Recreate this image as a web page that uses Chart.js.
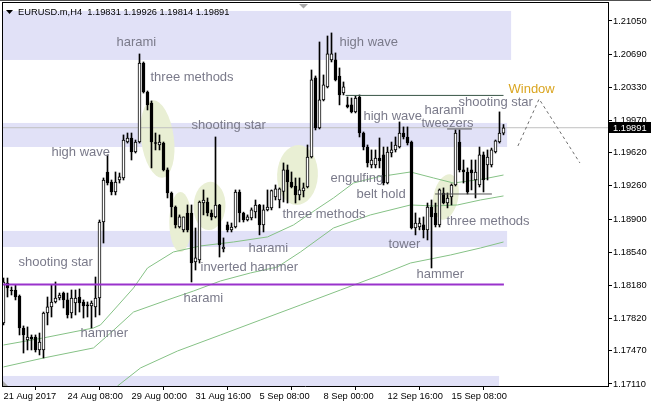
<!DOCTYPE html>
<html><head><meta charset="utf-8">
<script src="https://cdn.jsdelivr.net/npm/chart.js@4"></script>
<style>html,body{margin:0;padding:0;background:#fff;overflow:hidden}#wrap{width:651px;height:408px}</style>
</head><body><div id="wrap"><canvas id="c" width="651" height="408"></canvas></div>
<script>
const symbolTitle = 'EURUSD.m,H4';
const lastOHLC = ['1.19831','1.19926','1.19814','1.19891'];
const xTickIdx = [0,16,32,48,64,80,96,112];
const xTickLabels = ['21 Aug 2017','24 Aug 08:00','29 Aug 00:00','31 Aug 16:00','5 Sep 08:00','8 Sep 00:00','12 Sep 16:00','15 Sep 08:00'];
const yTicks = [1.21050,1.20690,1.20330,1.19970,1.19620,1.19260,1.18900,1.18540,1.18180,1.17820,1.17470,1.17110];

const candleOpen = [1.17772,1.18206,1.18130,1.18130,1.18065,1.17718,1.17588,1.17620,1.17620,1.17479,
 1.17479,1.17880,1.17946,1.18000,1.18043,1.18097,1.18022,1.17880,1.17989,1.18054,
 1.18000,1.17967,1.17957,1.17946,1.18043,1.18868,1.19411,1.19302,1.19194,1.19324,
 1.19346,1.19736,1.19780,1.19628,1.19736,1.20594,1.20279,1.20160,1.19725,1.19704,
 1.19725,1.19433,1.19183,1.19031,1.18814,1.18782,1.18966,1.18966,1.18434,1.18456,
 1.19074,1.19085,1.18966,1.18923,1.19053,1.18575,1.18836,1.18782,1.18814,1.19194,
 1.18966,1.18890,1.18912,1.18977,1.19053,1.18836,1.18999,1.19021,1.19140,1.19107,
 1.19200,1.19433,1.19302,1.19259,1.19162,1.19205,1.19248,1.19574,1.20432,1.19889,
 1.20193,1.20334,1.20627,1.20627,1.20453,1.20268,1.20139,1.20139,1.20063,1.20225,
 1.19834,1.19682,1.19487,1.19487,1.19563,1.19596,1.19291,1.19617,1.19650,1.19682,
 1.19834,1.19791,1.19736,1.18803,1.18814,1.18836,1.18782,1.19031,1.18966,1.18836,
 1.19183,1.19074,1.19140,1.19270,1.19736,1.19433,1.19411,1.19433,1.19324,1.19270,
 1.19596,1.19487,1.19487,1.19628,1.19736,1.19831];
const candleHigh = [1.18260,1.18260,1.18163,1.18185,1.18076,1.17740,1.17729,1.17642,1.17642,1.17663,
 1.17891,1.18054,1.18185,1.18217,1.18097,1.18108,1.18097,1.18130,1.18130,1.18141,
 1.18022,1.18000,1.18011,1.18271,1.18890,1.19346,1.19596,1.19324,1.19411,1.19400,
 1.19813,1.19834,1.19834,1.19758,1.20692,1.20605,1.20290,1.20182,1.19834,1.19813,
 1.19736,1.19455,1.19194,1.19042,1.18945,1.18923,1.19053,1.19053,1.18803,1.19096,
 1.19216,1.19129,1.18999,1.19791,1.19060,1.18695,1.18868,1.18857,1.19216,1.19216,
 1.18975,1.18945,1.19021,1.19107,1.19060,1.19053,1.19216,1.19216,1.19270,1.19238,
 1.19509,1.19487,1.19411,1.19346,1.19346,1.19291,1.19704,1.20518,1.20453,1.20822,
 1.20464,1.20887,1.20920,1.20703,1.20540,1.20388,1.20225,1.20214,1.20236,1.20247,
 1.19845,1.19704,1.19650,1.19650,1.19780,1.19682,1.19682,1.19736,1.19791,1.19954,
 1.19900,1.19900,1.19747,1.18966,1.18912,1.18923,1.19074,1.19107,1.19074,1.19227,
 1.19238,1.19183,1.19281,1.19867,1.19867,1.19541,1.19455,1.19541,1.19541,1.19682,
 1.19628,1.19650,1.19671,1.19758,1.20063,1.19926];
const candleLow = [1.17751,1.18054,1.18076,1.18022,1.17642,1.17446,1.17479,1.17479,1.17457,1.17425,
 1.17392,1.17751,1.17837,1.17989,1.18022,1.17935,1.17826,1.17826,1.17859,1.17891,
 1.17826,1.17837,1.17718,1.17837,1.17859,1.18640,1.19270,1.19162,1.19162,1.19291,
 1.19324,1.19725,1.19541,1.19617,1.19725,1.20268,1.20084,1.19455,1.19650,1.19650,
 1.19422,1.19129,1.18923,1.18803,1.18803,1.18760,1.18760,1.18217,1.18347,1.18423,
 1.18945,1.18934,1.18890,1.18912,1.18488,1.18543,1.18760,1.18760,1.18803,1.18868,
 1.18868,1.18879,1.18890,1.18912,1.18728,1.18760,1.18988,1.18999,1.19107,1.19021,
 1.19085,1.19074,1.19238,1.19074,1.19107,1.19140,1.19238,1.19563,1.19867,1.19878,
 1.20182,1.20323,1.20605,1.20399,1.20139,1.20247,1.20106,1.20052,1.20052,1.19791,
 1.19650,1.19465,1.19455,1.19455,1.19455,1.19270,1.19281,1.19574,1.19628,1.19671,
 1.19769,1.19704,1.18792,1.18728,1.18782,1.18695,1.18673,1.18369,1.18814,1.18814,
 1.19064,1.19021,1.19053,1.19259,1.19411,1.19291,1.19172,1.19216,1.19129,1.19248,
 1.19194,1.19324,1.19465,1.19617,1.19725,1.19814];
const candleClose = [1.18217,1.18152,1.18119,1.18054,1.17718,1.17642,1.17620,1.17598,1.17479,1.17566,
 1.17880,1.17946,1.18000,1.18043,1.18076,1.18022,1.17859,1.18043,1.18043,1.17989,
 1.17957,1.17957,1.17989,1.18043,1.18868,1.19324,1.19291,1.19194,1.19302,1.19357,
 1.19758,1.19780,1.19628,1.19736,1.20594,1.20279,1.20139,1.19736,1.19720,1.19736,
 1.19433,1.19183,1.19031,1.18836,1.18923,1.18923,1.18782,1.18423,1.18478,1.19085,
 1.19107,1.18966,1.18923,1.19053,1.18619,1.18597,1.18782,1.18814,1.19194,1.18966,
 1.18890,1.18923,1.18999,1.19053,1.18836,1.18999,1.19031,1.19210,1.19227,1.19227,
 1.19433,1.19302,1.19248,1.19162,1.19216,1.19238,1.19574,1.20410,1.19889,1.20193,
 1.20356,1.20692,1.20692,1.20410,1.20247,1.20334,1.20117,1.20063,1.20214,1.19834,
 1.19682,1.19509,1.19541,1.19563,1.19530,1.19291,1.19628,1.19650,1.19704,1.19834,
 1.19791,1.19725,1.18803,1.18857,1.18857,1.18782,1.19031,1.18923,1.18836,1.19216,
 1.19074,1.19129,1.19270,1.19834,1.19433,1.19411,1.19194,1.19400,1.19411,1.19596,
 1.19324,1.19574,1.19650,1.19750,1.19834,1.19891];

// moving averages (bar index, price)
const maFastIdx = [0,10,22.5,24.25,28.5,32.5,36,42.5,49.25,57.5,66,72.5,78,82.5,87.5,93.5,101.75,107.5,112.5,120,125];
const maFastVal = [1.17533,1.17610,1.17718,1.17751,1.17957,1.18152,1.18369,1.18543,1.18608,1.18651,1.18706,1.18836,1.18999,1.19129,1.19291,1.19357,1.19411,1.19346,1.19291,1.19335,1.19378];
const maMidIdx = [0,10,22.5,26.75,32.5,41,47.5,54.25,61.75,68.5,74.25,82.5,91.75,101.75,107.5,113.5,119.25,125];
const maMidVal = [1.17295,1.17392,1.17501,1.17663,1.17891,1.18022,1.18119,1.18228,1.18315,1.18380,1.18543,1.18803,1.18945,1.19053,1.19042,1.19053,1.19107,1.19151];
const maSlowIdx = [28.5,34.25,43.5,54.25,64.25,74.25,84.25,94.25,101.75,111.75,119.25,125];
const maSlowVal = [1.17088,1.17284,1.17468,1.17642,1.17805,1.17967,1.18130,1.18293,1.18423,1.18510,1.18586,1.18651];

const bidPrice = 1.19891;
const supportLevel = 1.18190;
const resistanceLevel = 1.20242;
const tweezerTop = 1.19878;
const tweezerBottom = 1.19172;
const windowIdx = [128.6,133.9,144.1];
const windowVal = [1.19693,1.20203,1.19509];

const patternNames = ['harami','three methods','shooting star','high wave','shooting star','hammer','harami','inverted hammer','harami','three methods','engulfing','belt hold','high wave','high wave','harami','tweezers','shooting star','tower','three methods','hammer'];
const patternIdx = [28.25,36.75,47,12,3.75,19.25,45,49.25,61.25,69.75,81.75,88.25,84,90,105.25,104.5,113.75,96.25,110.75,103.25];
const patternPrice = [1.20822,1.20432,1.19911,1.19628,1.18434,1.17663,1.18043,1.18380,1.18586,1.18955,1.19346,1.19162,1.20822,1.20019,1.20084,1.19943,1.20171,1.18629,1.18879,1.18304];
const windowText = 'Window';

// annotation geometry (data coordinates)
const XMIN = -0.375, XMAX = 151.125, YMIN = 1.17088, YMAX = 1.21245;
const zones = [
  {x0:XMIN, x1:126.9, y0:1.21159, y1:1.20627},
  {x0:XMIN, x1:125.9, y0:1.19943, y1:1.19682},
  {x0:XMIN, x1:125.9, y0:1.18771, y1:1.18597},
  {x0:XMIN, x1:123.9, y0:1.17197, y1:1.17000}
];
const ellipses = [
  {x:38.5, y:1.19769, dx:4.1, dy:0.00423, rot:-0.13},
  {x:44.25, y:1.18868, dx:2.8, dy:0.00326, rot:0},
  {x:51.5, y:1.19042, dx:4, dy:0.00262, rot:0.05},
  {x:73.5, y:1.19378, dx:5.1, dy:0.00326, rot:0.05},
  {x:110.6, y:1.19140, dx:3.1, dy:0.00250, rot:0.2}
];

const overlay = {
  id: 'overlay',
  beforeDatasetsDraw(chart) {
    const {ctx, chartArea: a, scales: {x, y}} = chart;
    ctx.save();
    ctx.beginPath(); ctx.rect(a.left, a.top, a.right - a.left, a.bottom - a.top); ctx.clip();
    ctx.fillStyle = 'rgb(225,225,247)';
    zones.forEach(z => {
      const x0 = x.getPixelForValue(z.x0), x1 = x.getPixelForValue(z.x1);
      const y0 = y.getPixelForValue(z.y0), y1 = y.getPixelForValue(z.y1);
      ctx.fillRect(x0, Math.min(y0, y1), x1 - x0, Math.abs(y1 - y0));
    });
    ctx.fillStyle = 'rgb(233,239,212)';
    ellipses.forEach(e => {
      const cx = x.getPixelForValue(e.x), cy = y.getPixelForValue(e.y);
      const rx = x.getPixelForValue(e.x + e.dx) - cx, ry = cy - y.getPixelForValue(e.y + e.dy);
      ctx.beginPath(); ctx.ellipse(cx, cy, rx, ry, e.rot, 0, Math.PI * 2); ctx.fill();
    });
    ctx.restore();
  },
  afterDatasetsDraw(chart) {
    const {ctx, scales: {x, y}} = chart;
    ctx.save();
    ctx.font = '13px "Liberation Sans"';
    ctx.textBaseline = 'middle'; ctx.textAlign = 'left';
    ctx.fillStyle = 'rgb(122,122,138)';
    patternNames.forEach((t, i) => ctx.fillText(t, x.getPixelForValue(patternIdx[i]), y.getPixelForValue(patternPrice[i])));
    ctx.fillStyle = 'rgb(218,165,32)';
    ctx.fillText(windowText, x.getPixelForValue(126.25), y.getPixelForValue(1.20312));
    ctx.restore();
  },
  afterDraw(chart) {
    const {ctx, chartArea: a, scales: {y}} = chart;
    ctx.save();
    // window/frame lines
    ctx.fillStyle = '#505050'; ctx.fillRect(0, 0, 651, 1);
    ctx.fillStyle = '#000';
    ctx.fillRect(a.left, a.top - 1, a.right - a.left + 1, 1);
    ctx.fillRect(a.left, a.top - 1, 1, a.bottom - a.top + 1);
    // shift marker
    ctx.fillStyle = '#a8a8a8';
    ctx.beginPath(); ctx.moveTo(299, 4); ctx.lineTo(308, 4); ctx.lineTo(303.5, 8.5); ctx.closePath(); ctx.fill();
    ctx.beginPath(); ctx.moveTo(3, 381); ctx.lineTo(3, 386); ctx.lineTo(8, 386); ctx.closePath(); ctx.fill();
    // header
    ctx.fillStyle = '#000';
    ctx.beginPath(); ctx.moveTo(6, 10); ctx.lineTo(13, 10); ctx.lineTo(9.5, 14); ctx.closePath(); ctx.fill();
    ctx.font = '9.3px "Liberation Sans"'; ctx.textBaseline = 'middle'; ctx.textAlign = 'left';
    ctx.fillText(symbolTitle + '  ' + lastOHLC.join(' '), 18, 12);
    // bid price box
    const py = y.getPixelForValue(bidPrice);
    ctx.fillStyle = '#000'; ctx.fillRect(609, Math.round(py - 5.5), 42, 11);
    ctx.fillStyle = '#fff'; ctx.fillText(lastOHLC[3], 613, py + 0.5);
    ctx.restore();
  }
};

const lineDs = (label, pts, color, width, order, dash) => ({
  type: 'line', label, data: pts, borderColor: color, borderWidth: width, pointRadius: 0,
  fill: false, tension: 0, order, borderDash: dash || [], parsing: true
});

new Chart(document.getElementById('c'), {
  type: 'bar',
  data: {
    datasets: [
      lineDs('MA fast', maFastIdx.map((v, i) => ({x: v, y: maFastVal[i]})), 'rgb(134,194,134)', 1, 8),
      lineDs('MA mid', maMidIdx.map((v, i) => ({x: v, y: maMidVal[i]})), 'rgb(134,194,134)', 1, 8),
      lineDs('MA slow', maSlowIdx.map((v, i) => ({x: v, y: maSlowVal[i]})), 'rgb(134,194,134)', 1, 8),
      lineDs('Bid', [{x: XMIN, y: bidPrice}, {x: XMAX, y: bidPrice}], 'rgb(192,192,192)', 1, 9),
      {type: 'bar', label: 'wicks', data: candleHigh.map((h, i) => ({x: i, y: [candleLow[i], h]})),
        backgroundColor: '#000', barThickness: 1, grouped: false, order: 4},
      {type: 'bar', label: 'bodies', data: candleOpen.map((o, i) => ({x: i, y: [o, candleClose[i]]})),
        backgroundColor: candleOpen.map((o, i) => candleClose[i] >= o ? '#fff' : '#000'),
        borderColor: '#000', borderWidth: 1, borderSkipped: false, minBarLength: 1,
        barThickness: 3, grouped: false, order: 3},
      lineDs('Support', [{x: XMIN, y: supportLevel}, {x: 125.1, y: supportLevel}], 'rgb(153,50,204)', 2, 0),
      lineDs('Resistance', [{x: 85.5, y: resistanceLevel}, {x: 125, y: resistanceLevel}], 'rgb(55,85,70)', 1, 1),
      lineDs('Tweezer top', [{x: 110.9, y: tweezerTop}, {x: 117.1, y: tweezerTop}], 'rgb(85,85,85)', 1, 1),
      lineDs('Tweezer bottom', [{x: 107.9, y: tweezerBottom}, {x: 122.1, y: tweezerBottom}], 'rgb(85,85,85)', 1, 1),
      lineDs('Window', windowIdx.map((v, i) => ({x: v, y: windowVal[i]})), 'rgb(110,110,110)', 1, 1, [3, 3])
    ]
  },
  options: {
    responsive: false, animation: false, events: [],
    layout: {padding: {top: 3, left: 2, right: 0, bottom: 0}},
    plugins: {legend: {display: false}, tooltip: {enabled: false}},
    scales: {
      x: {
        type: 'linear', min: XMIN, max: XMAX, offset: false,
        afterBuildTicks(s) { s.ticks = xTickIdx.map(v => ({value: v})); },
        afterFit(s) { s.height = 22; s.paddingLeft = 0; s.paddingRight = 0; },
        ticks: {autoSkip: false, maxRotation: 0, minRotation: 0, align: 'start', padding: 1, color: '#000',
          font: {family: 'Liberation Sans', size: 9.3}, callback: (v, i) => xTickLabels[i]},
        grid: {drawOnChartArea: false, drawTicks: true, tickLength: 4, color: '#000', lineWidth: 1},
        border: {display: true, color: '#000', width: 1}
      },
      y: {
        type: 'linear', position: 'right', min: YMIN, max: YMAX,
        afterBuildTicks(s) { s.ticks = yTicks.map(v => ({value: v})); },
        afterFit(s) { s.width = 43; s.paddingTop = 0; s.paddingBottom = 0; },
        ticks: {autoSkip: false, padding: 1, color: '#000',
          font: {family: 'Liberation Sans', size: 9.3}, callback: v => v.toFixed(5)},
        grid: {drawOnChartArea: false, drawTicks: true, tickLength: 4, color: '#000', lineWidth: 1},
        border: {display: true, color: '#000', width: 1}
      }
    }
  },
  plugins: [overlay]
});
</script></body></html>
